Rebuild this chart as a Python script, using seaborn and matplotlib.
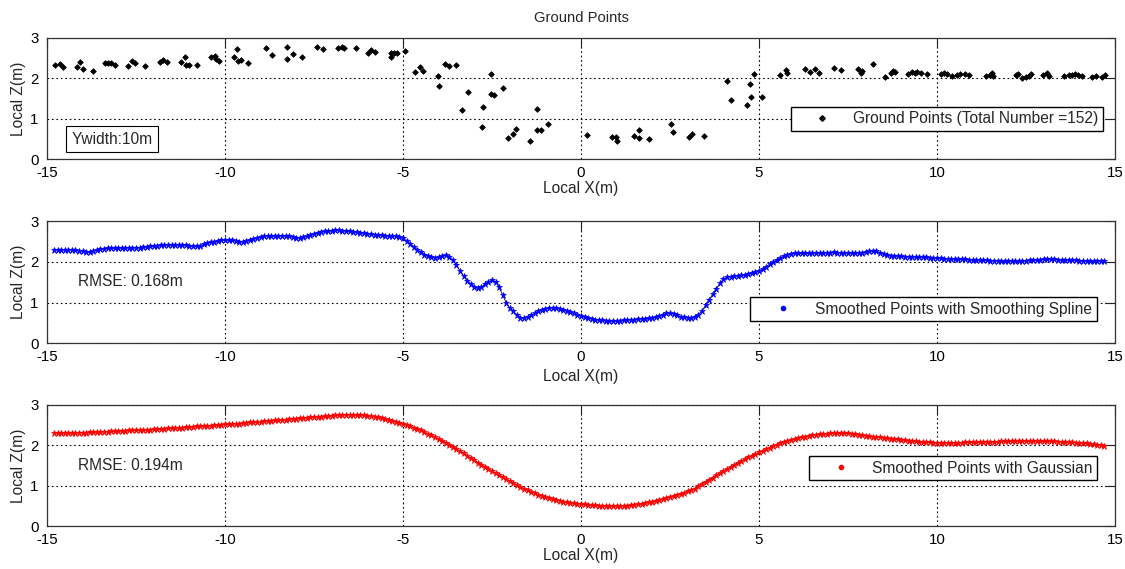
import numpy as np
import pandas as pd
import matplotlib
matplotlib.use("Agg")
import matplotlib.pyplot as plt
from matplotlib.lines import Line2D
import seaborn as sns

# ---------------- data ----------------
ground_x = [-14.78, -14.64, -14.55, -14.15, -14.08, -13.99, -13.70, -13.37, -13.28, -13.19,
            -13.09, -12.72, -12.62, -12.53, -12.26, -11.83, -11.73, -11.64, -11.25, -11.13,
            -11.09, -11.00, -10.78, -10.40, -10.28, -10.24, -10.16, -9.75, -9.65, -9.63,
            -9.54, -9.36, -8.86, -8.69, -8.25, -8.27, -8.09, -7.85, -7.41, -7.25,
            -6.82, -6.72, -6.66, -6.33, -5.97, -5.89, -5.80, -5.35, -5.35, -5.26,
            -5.16, -4.93, -4.65, -4.53, -4.43, -4.02, -3.99, -3.82, -3.71, -3.50,
            -3.35, -3.17, -2.76, -2.77, -2.54, -2.54, -2.45, -2.20, -2.05, -1.91,
            -1.82, -1.44, -1.23, -1.25, -1.12, -0.93, 0.16, 0.88, 0.97, 1.02,
            1.49, 1.63, 1.63, 1.91, 2.54, 2.58, 3.03, 3.13, 3.45, 4.11,
            4.22, 4.65, 4.76, 4.78, 4.86, 5.09, 5.59, 5.75, 5.80, 6.28,
            6.43, 6.57, 6.68, 7.10, 7.29, 7.78, 7.87, 7.89, 8.21, 8.54,
            8.70, 8.77, 8.81, 9.19, 9.29, 9.37, 9.45, 9.56, 9.71, 10.10,
            10.19, 10.29, 10.43, 10.57, 10.66, 10.78, 10.90, 11.37, 11.49, 11.55,
            11.58, 12.21, 12.27, 12.40, 12.49, 12.58, 12.63, 12.99, 13.10, 13.14,
            13.58, 13.71, 13.80, 13.89, 13.96, 14.08, 14.36, 14.46, 14.64, 14.71]
ground_z = [2.33, 2.34, 2.28, 2.29, 2.39, 2.23, 2.19, 2.37, 2.38, 2.37,
            2.33, 2.31, 2.43, 2.37, 2.31, 2.41, 2.45, 2.41, 2.39, 2.53,
            2.33, 2.33, 2.33, 2.53, 2.55, 2.47, 2.43, 2.53, 2.73, 2.43,
            2.45, 2.38, 2.75, 2.57, 2.78, 2.48, 2.59, 2.53, 2.78, 2.73,
            2.75, 2.78, 2.75, 2.75, 2.63, 2.70, 2.65, 2.62, 2.53, 2.62,
            2.62, 2.68, 2.15, 2.29, 2.18, 2.06, 1.81, 2.35, 2.30, 2.33,
            1.21, 1.66, 1.29, 0.81, 2.11, 1.61, 1.58, 1.75, 0.54, 0.64,
            0.76, 0.46, 1.24, 0.72, 0.72, 0.88, 0.61, 0.56, 0.56, 0.46,
            0.58, 0.73, 0.52, 0.50, 0.87, 0.68, 0.56, 0.63, 0.58, 1.93,
            1.47, 1.34, 1.86, 1.53, 2.11, 1.53, 2.08, 2.20, 2.12, 2.23,
            2.16, 2.23, 2.14, 2.26, 2.20, 2.23, 2.12, 2.19, 2.35, 2.04,
            2.12, 2.19, 2.15, 2.11, 2.15, 2.12, 2.15, 2.12, 2.11, 2.10,
            2.12, 2.11, 2.06, 2.08, 2.10, 2.11, 2.08, 2.06, 2.08, 2.12,
            2.06, 2.08, 2.11, 2.01, 2.04, 2.06, 2.10, 2.08, 2.12, 2.06,
            2.06, 2.08, 2.08, 2.10, 2.08, 2.06, 2.04, 2.06, 2.04, 2.08]

# smoothed points are evaluated on a regular 0.1 m grid from -14.8 to 14.7
smooth_x_start, smooth_x_step, smooth_n = -14.8, 0.1, 296

spline_z = [2.30, 2.30, 2.30, 2.30, 2.30, 2.30, 2.29, 2.28, 2.26,
            2.25, 2.24, 2.26, 2.29, 2.31, 2.33, 2.34, 2.34, 2.34, 2.34,
            2.34, 2.35, 2.35, 2.35, 2.35, 2.35, 2.36, 2.37, 2.38, 2.39,
            2.40, 2.41, 2.42, 2.42, 2.42, 2.42, 2.42, 2.42, 2.41, 2.40,
            2.38, 2.38, 2.40, 2.43, 2.46, 2.48, 2.50, 2.52, 2.53, 2.54,
            2.54, 2.53, 2.52, 2.50, 2.50, 2.51, 2.53, 2.56, 2.59, 2.61,
            2.63, 2.64, 2.64, 2.64, 2.64, 2.64, 2.64, 2.63, 2.62, 2.60,
            2.60, 2.61, 2.63, 2.66, 2.69, 2.72, 2.74, 2.75, 2.76, 2.77,
            2.78, 2.78, 2.77, 2.76, 2.75, 2.74, 2.73, 2.72, 2.70, 2.69,
            2.68, 2.67, 2.66, 2.66, 2.65, 2.64, 2.64, 2.63, 2.61, 2.58,
            2.52, 2.45, 2.37, 2.30, 2.24, 2.18, 2.14, 2.11, 2.10, 2.11,
            2.14, 2.17, 2.13, 2.04, 1.92, 1.78, 1.65, 1.54, 1.45, 1.39,
            1.35, 1.37, 1.45, 1.51, 1.55, 1.51, 1.38, 1.18, 1.00, 0.86,
            0.78, 0.68, 0.63, 0.61, 0.64, 0.68, 0.73, 0.78, 0.82, 0.85,
            0.87, 0.87, 0.86, 0.84, 0.82, 0.79, 0.76, 0.73, 0.70, 0.67,
            0.64, 0.62, 0.60, 0.58, 0.57, 0.56, 0.55, 0.55, 0.54, 0.54,
            0.55, 0.56, 0.57, 0.58, 0.58, 0.59, 0.60, 0.60, 0.61, 0.62,
            0.64, 0.67, 0.70, 0.73, 0.74, 0.72, 0.68, 0.65, 0.64, 0.63,
            0.63, 0.65, 0.70, 0.80, 0.93, 1.07, 1.20, 1.34, 1.47, 1.57,
            1.62, 1.64, 1.65, 1.66, 1.67, 1.68, 1.70, 1.72, 1.75, 1.78,
            1.82, 1.88, 1.94, 2.00, 2.05, 2.10, 2.14, 2.18, 2.20, 2.21,
            2.21, 2.21, 2.21, 2.21, 2.22, 2.22, 2.22, 2.22, 2.23, 2.23,
            2.24, 2.23, 2.23, 2.22, 2.22, 2.22, 2.22, 2.22, 2.23, 2.24,
            2.26, 2.27, 2.26, 2.23, 2.19, 2.16, 2.15, 2.14, 2.14, 2.14,
            2.13, 2.13, 2.13, 2.12, 2.12, 2.11, 2.11, 2.10, 2.10, 2.09,
            2.09, 2.08, 2.08, 2.07, 2.07, 2.06, 2.06, 2.06, 2.05, 2.05,
            2.05, 2.04, 2.04, 2.04, 2.03, 2.03, 2.03, 2.02, 2.02, 2.02,
            2.02, 2.02, 2.03, 2.03, 2.03, 2.04, 2.04, 2.05, 2.05, 2.06,
            2.06, 2.06, 2.06, 2.05, 2.05, 2.05, 2.05, 2.05, 2.04, 2.03,
            2.02, 2.02, 2.02, 2.02, 2.02, 2.02, 2.02]

gauss_z = [2.30, 2.30, 2.30, 2.30, 2.30, 2.30, 2.30, 2.31, 2.31,
           2.31, 2.32, 2.32, 2.32, 2.33, 2.33, 2.33, 2.34, 2.34, 2.34,
           2.35, 2.35, 2.36, 2.36, 2.37, 2.37, 2.37, 2.38, 2.38, 2.39,
           2.39, 2.40, 2.40, 2.41, 2.42, 2.42, 2.43, 2.43, 2.44, 2.44,
           2.45, 2.46, 2.46, 2.47, 2.47, 2.48, 2.49, 2.49, 2.50, 2.51,
           2.51, 2.52, 2.53, 2.53, 2.54, 2.55, 2.56, 2.56, 2.57, 2.58,
           2.59, 2.59, 2.60, 2.61, 2.62, 2.62, 2.63, 2.64, 2.65, 2.65,
           2.66, 2.67, 2.67, 2.68, 2.69, 2.69, 2.70, 2.71, 2.71, 2.72,
           2.73, 2.74, 2.74, 2.75, 2.75, 2.75, 2.74, 2.74, 2.73, 2.72,
           2.71, 2.70, 2.68, 2.66, 2.64, 2.62, 2.60, 2.58, 2.55, 2.52,
           2.49, 2.46, 2.43, 2.40, 2.36, 2.32, 2.28, 2.24, 2.20, 2.15,
           2.11, 2.06, 2.01, 1.96, 1.91, 1.85, 1.80, 1.74, 1.68, 1.63,
           1.57, 1.52, 1.47, 1.42, 1.36, 1.31, 1.26, 1.21, 1.16, 1.11,
           1.06, 1.02, 0.97, 0.93, 0.89, 0.85, 0.82, 0.78, 0.75, 0.72,
           0.69, 0.67, 0.65, 0.63, 0.61, 0.59, 0.58, 0.57, 0.56, 0.55,
           0.54, 0.53, 0.52, 0.52, 0.51, 0.51, 0.50, 0.50, 0.50, 0.50,
           0.50, 0.51, 0.51, 0.52, 0.53, 0.54, 0.55, 0.57, 0.59, 0.61,
           0.63, 0.65, 0.67, 0.70, 0.72, 0.75, 0.77, 0.80, 0.83, 0.86,
           0.89, 0.93, 1.00, 1.05, 1.10, 1.15, 1.20, 1.26, 1.31, 1.36,
           1.41, 1.46, 1.51, 1.56, 1.60, 1.65, 1.70, 1.74, 1.78, 1.82,
           1.86, 1.90, 1.94, 1.98, 2.01, 2.04, 2.07, 2.10, 2.13, 2.15,
           2.17, 2.19, 2.21, 2.23, 2.25, 2.26, 2.27, 2.28, 2.28, 2.29,
           2.29, 2.29, 2.29, 2.29, 2.29, 2.28, 2.27, 2.26, 2.25, 2.23,
           2.22, 2.21, 2.20, 2.19, 2.18, 2.17, 2.16, 2.15, 2.14, 2.13,
           2.12, 2.11, 2.10, 2.09, 2.08, 2.08, 2.07, 2.07, 2.06, 2.06,
           2.06, 2.06, 2.06, 2.06, 2.06, 2.06, 2.06, 2.07, 2.07, 2.07,
           2.07, 2.07, 2.08, 2.08, 2.08, 2.08, 2.08, 2.09, 2.09, 2.09,
           2.09, 2.10, 2.10, 2.10, 2.10, 2.10, 2.10, 2.10, 2.09, 2.09,
           2.09, 2.09, 2.09, 2.08, 2.08, 2.08, 2.08, 2.07, 2.06, 2.06,
           2.05, 2.04, 2.03, 2.02, 2.01, 2.00, 1.99]

x_ticks = [-15, -10, -5, 0, 5, 10, 15]
z_ticks = [0, 1, 2, 3]

title_text = "Ground Points"
legend_labels = ["Ground Points (Total Number =152)",
                 "Smoothed Points with Smoothing Spline",
                 "Smoothed Points with Gaussian"]
rmse_labels = ["RMSE: 0.168m", "RMSE: 0.194m"]
ywidth_label = "Ywidth:10m"

# ---------------- style ----------------
sns.set_theme(style="white")
plt.rcParams['font.family'] = ['Liberation Sans', 'DejaVu Sans']
plt.rcParams['axes.unicode_minus'] = False
FS = 11.2
TICK_FS = 10.8

smooth_x = np.round(smooth_x_start + smooth_x_step * np.arange(smooth_n), 1)
df_ground = pd.DataFrame({"x": ground_x, "z": ground_z})
df_spline = pd.DataFrame({"x": smooth_x, "z": spline_z})
df_gauss = pd.DataFrame({"x": smooth_x, "z": gauss_z})

W, H = 1125, 569
fig = plt.figure(figsize=(W / 100, H / 100), dpi=100)

left, right = 47, 1115
tops = [37.7, 221.3, 404.5]
ph = 121.8
xlabel_y = [-0.24, -0.275, -0.24]

axes = []
for t in tops:
    ax = fig.add_axes([left / W, 1 - (t + ph) / H, (right - left) / W, ph / H])
    axes.append(ax)

# panel 1: ground points
ax = axes[0]
sns.scatterplot(data=df_ground, x="x", y="z", ax=ax, marker='D', s=8,
                color='black', edgecolor='black', linewidth=0.6, legend=False)
h1 = Line2D([], [], ls='none', marker='D', color='black', markersize=2.8)
ax.legend([h1], [legend_labels[0]], loc='upper right', bbox_to_anchor=(0.989, 0.435),
          frameon=True, fancybox=False, edgecolor='black', framealpha=1,
          fontsize=FS, borderpad=0.3, handlelength=3.4, handletextpad=0.3,
          borderaxespad=0)
ax.text(0.0613, 0.168, ywidth_label, transform=ax.transAxes, ha='center', va='center',
        fontsize=FS, bbox=dict(boxstyle='square,pad=0.35', fc='white', ec='black', lw=0.8))

# panel 2: smoothing spline
ax = axes[1]
sns.lineplot(data=df_spline, x="x", y="z", ax=ax, sort=False, estimator=None,
             color='black', linewidth=0.6, marker='*', markersize=4.5,
             markerfacecolor='blue', markeredgecolor='blue', markeredgewidth=0.5)
h2 = Line2D([], [], ls='none', marker='.', color='blue', markersize=6)
ax.legend([h2], [legend_labels[1]], loc='upper right', bbox_to_anchor=(0.983, 0.378),
          frameon=True, fancybox=False, edgecolor='black', framealpha=1,
          fontsize=FS, borderpad=0.3, handlelength=3.6, handletextpad=0.3,
          borderaxespad=0)
ax.text(0.029, 0.504, rmse_labels[0], transform=ax.transAxes, ha='left', va='center', fontsize=FS)

# panel 3: gaussian
ax = axes[2]
sns.lineplot(data=df_gauss, x="x", y="z", ax=ax, sort=False, estimator=None,
             color='black', linewidth=0.6, marker='*', markersize=4.5,
             markerfacecolor='red', markeredgecolor='red', markeredgewidth=0.5)
h3 = Line2D([], [], ls='none', marker='.', color='red', markersize=6)
ax.legend([h3], [legend_labels[2]], loc='upper right', bbox_to_anchor=(0.983, 0.577),
          frameon=True, fancybox=False, edgecolor='black', framealpha=1,
          fontsize=FS, borderpad=0.3, handlelength=3.4, handletextpad=0.3,
          borderaxespad=0)
ax.text(0.029, 0.503, rmse_labels[1], transform=ax.transAxes, ha='left', va='center', fontsize=FS)

for ax, ly in zip(axes, xlabel_y):
    ax.set_xlim(-15, 15)
    ax.set_ylim(0, 3)
    ax.set_xticks(x_ticks)
    ax.set_yticks(z_ticks)
    ax.grid(True, linestyle=(0, (1.5, 2.5)), color='black', linewidth=0.8)
    ax.tick_params(direction='in', length=7, width=0.8, top=True, right=True,
                   labelsize=TICK_FS, colors='#222222', labelcolor='black')
    ax.tick_params(axis='x', pad=5)
    ax.tick_params(axis='y', pad=6)
    for s in ax.spines.values():
        s.set_visible(True)
        s.set_color('#333333')
        s.set_linewidth(0.9)
    ax.set_axisbelow(True)
    ax.set_xlabel("Local X(m)", fontsize=FS)
    ax.set_ylabel("Local Z(m)", fontsize=FS)
    ax.xaxis.set_label_coords(0.5, ly)
    ax.xaxis.label.set_verticalalignment('center')
    ax.yaxis.set_label_coords(-0.027, 0.5)
    ax.yaxis.label.set_verticalalignment('center')

fig.text((left + right) / 2 / W, 1 - 18 / H, title_text, ha='center', va='center', fontsize=10.6)

fig.savefig("out.png", dpi=100, facecolor='white')
